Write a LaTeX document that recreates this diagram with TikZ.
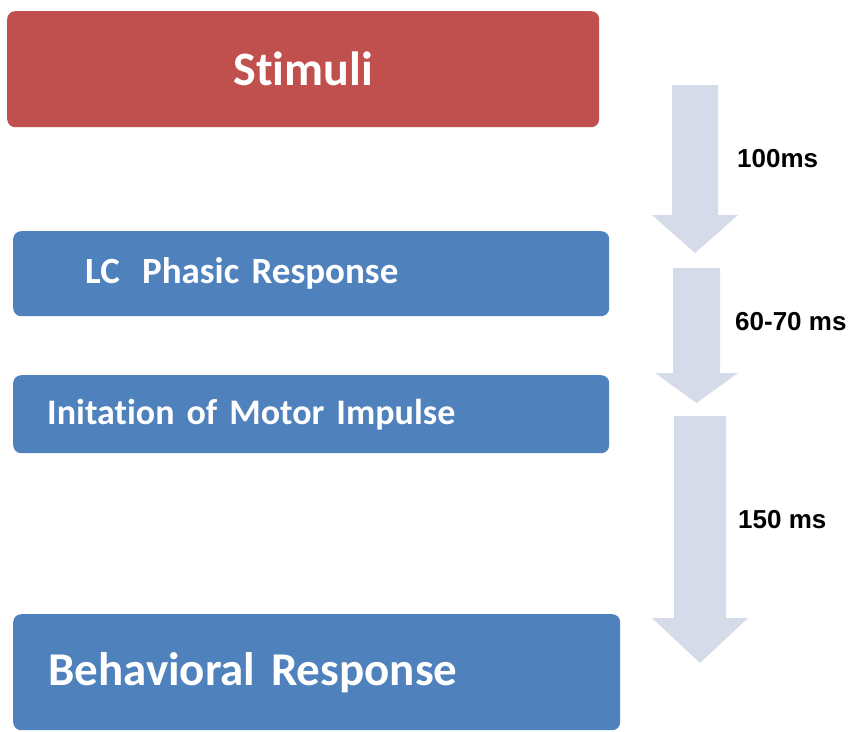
\documentclass[tikz,border=0pt]{standalone}
\usepackage{fontspec}
\newfontfamily\boxfont[Ligatures=NoCommon]{Carlito}
\newfontfamily\labfont{Liberation Sans}
\definecolor{stimred}{HTML}{C0504D}
\definecolor{boxblue}{HTML}{4F81BD}
\definecolor{arrowgrey}{HTML}{D5DBE9}
\begin{document}
\begin{tikzpicture}[x=1pt,y=-1pt,
  boxbase/.style={anchor=north west, rounded corners=8pt, text=white, inner ysep=0pt,
    font=\boxfont\bfseries},
  redbox/.style={boxbase, fill=stimred},
  bluebox/.style={boxbase, fill=boxblue, align=left},
  timelabel/.style={anchor=west, inner sep=0pt, font=\labfont\bfseries\fontsize{26}{30}\selectfont}
]
\useasboundingbox (0,0) rectangle (858,731);

% boxes
\node[redbox, minimum height=116pt, text width=592pt, inner xsep=0pt, align=center,
      font=\boxfont\bfseries\fontsize{48}{52}\selectfont] (stim) at (7,11) {Stimuli};
\node[bluebox, minimum height=85pt, inner xsep=72pt, text width=452pt,
      font=\boxfont\bfseries\fontsize{37}{40}\selectfont] (lc) at (13,231) {LC\hspace{0.6em}Phasic Response};
\node[bluebox, minimum height=78pt, inner xsep=34pt, text width=528pt,
      font=\boxfont\bfseries\fontsize{36}{40}\selectfont] (init) at (13,375) {Initation of Motor Impulse};
\node[bluebox, minimum height=116pt, inner xsep=35pt, text width=537pt,
      font=\boxfont\bfseries\fontsize{47}{52}\selectfont] (beh) at (13,614) {Behavioral Response};

% block arrows
\fill[arrowgrey] (672,85) -- (718,85) -- (718,215) -- (738,215) -- (695,253) -- (652,215) -- (672,215) -- cycle;
\fill[arrowgrey] (673,268) -- (720,268) -- (720,373) -- (738,373) -- (696.5,403) -- (655,373) -- (673,373) -- cycle;
\fill[arrowgrey] (674,416) -- (726,416) -- (726,618) -- (748,618) -- (700,663) -- (652,618) -- (674,618) -- cycle;

% labels
\node[timelabel] (t1) at (737,159) {100ms};
\node[timelabel] (t2) at (735,322) {60-70 ms};
\node[timelabel] (t3) at (738,520) {150 ms};
\end{tikzpicture}
\end{document}
